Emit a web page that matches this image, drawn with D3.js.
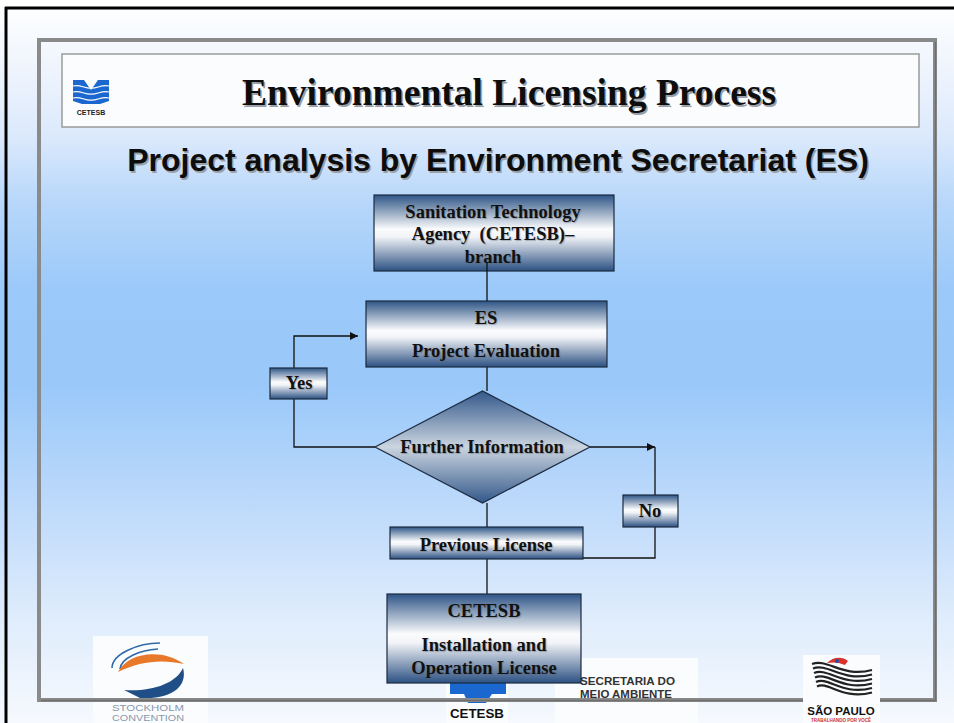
<!DOCTYPE html>
<html>
<head>
<meta charset="utf-8">
<script src="https://cdn.jsdelivr.net/npm/d3@7"></script>
<style>
  body { margin: 0; overflow: hidden; background: #fff; }
  svg { display: block; }
</style>
</head>
<body>
<div id="chart"></div>
<script>
// ---- content ----
const titleText = "Environmental Licensing Process";
const subtitleText = "Project analysis by Environment Secretariat (ES)";

const nodeIds   = ["agency", "evaluation", "decision", "yes", "no", "previous", "license"];
const nodeKinds = ["box", "box", "diamond", "box", "box", "box", "box"];
const nodeLines = [
  ["Sanitation Technology", "Agency  (CETESB)\u2013", "branch"],
  ["ES", "Project Evaluation"],
  ["Further Information"],
  ["Yes"],
  ["No"],
  ["Previous License"],
  ["CETESB", "Installation and", "Operation License"]
];

// connections: [from, to, arrow?]
const linkFrom  = ["agency", "evaluation", "decision", "decision", "no", "previous", "decision", "yes"];
const linkTo    = ["evaluation", "decision", "previous", "no", "previous", "license", "yes", "evaluation"];
const linkArrow = [false, false, false, true, false, false, false, true];

const footerSecretaria = ["SECRETARIA DO", "MEIO AMBIENTE"];
const footerStockholm  = ["STOCKHOLM", "CONVENTION"];

// ---- layout (slide coordinates) ----
const W = 954, H = 723;
const layout = {
  agency:     { x: 374, y: 195, w: 240, h: 76, lines: [218, 240, 263], cx: 493 },
  evaluation: { x: 366, y: 301, w: 241, h: 66, lines: [324, 357], cx: 486 },
  decision:   { x: 375, y: 391, w: 215, h: 112, lines: [453], cx: 482 },
  yes:        { x: 270, y: 368, w: 57,  h: 31, lines: [389], cx: 299 },
  no:         { x: 623, y: 495, w: 55,  h: 32, lines: [517], cx: 650 },
  previous:   { x: 390, y: 527, w: 193, h: 32, lines: [551], cx: 486 },
  license:    { x: 387, y: 594, w: 194, h: 89, lines: [617, 651, 674], cx: 484 }
};
const spineX = 487, yesX = 294, yesTopY = 336, noX = 655, noBottomY = 558;

const svg = d3.select("#chart").append("svg")
  .attr("width", W).attr("height", H)
  .attr("viewBox", `0 0 ${W} ${H}`);

const defs = svg.append("defs");

// background gradient
const bg = defs.append("linearGradient").attr("id", "bg")
  .attr("x1", 0).attr("y1", 0).attr("x2", 0).attr("y2", 1);
[[0, "#ffffff"], [0.1, "#eef4fd"], [0.19, "#dbe9fc"], [0.28, "#b7d7fa"], [0.4, "#9bc9f9"],
 [0.53, "#99c8f9"], [0.72, "#c2dcfb"], [0.86, "#e0edfc"], [1, "#f6f9fe"]]
  .forEach(([o, c]) => bg.append("stop").attr("offset", o).attr("stop-color", c));

const boxGrad = defs.append("linearGradient").attr("id", "boxGrad")
  .attr("x1", 0).attr("y1", 0).attr("x2", 0).attr("y2", 1);
[[0, "#2f5586"], [0.45, "#fbfcfd"], [0.55, "#f1f3f7"], [1, "#2c5182"]]
  .forEach(([o, c]) => boxGrad.append("stop").attr("offset", o).attr("stop-color", c));

const diaGrad = defs.append("linearGradient").attr("id", "diaGrad")
  .attr("x1", 0).attr("y1", 0).attr("x2", 0).attr("y2", 1);
[[0, "#33588a"], [0.5, "#cbd5e0"], [1, "#33588a"]]
  .forEach(([o, c]) => diaGrad.append("stop").attr("offset", o).attr("stop-color", c));

defs.append("marker").attr("id", "arrow")
  .attr("viewBox", "0 0 10 10").attr("refX", 10).attr("refY", 5)
  .attr("markerWidth", 9).attr("markerHeight", 8).attr("markerUnits", "userSpaceOnUse")
  .attr("orient", "auto")
  .append("path").attr("d", "M0,0 L10,5 L0,10 Z").attr("fill", "#111");

svg.append("rect").attr("width", W).attr("height", H).attr("fill", "url(#bg)");

// outer black border (top and left)
svg.append("line").attr("x1", 5).attr("x2", W).attr("y1", 8).attr("y2", 8)
  .attr("stroke", "#000").attr("stroke-width", 3);
svg.append("line").attr("x1", 6).attr("x2", 6).attr("y1", 7).attr("y2", H)
  .attr("stroke", "#000").attr("stroke-width", 3);

// ---- footer logos drawn beneath the frame ----
const foot = svg.append("g");
const sans = "Liberation Sans, Arial, sans-serif";

// Stockholm Convention
foot.append("rect").attr("x", 93).attr("y", 636).attr("width", 115).attr("height", 87).attr("fill", "#fbfcfe");
foot.append("path").attr("d", "M160,643 C138,643 112,654 112,668").attr("fill", "none").attr("stroke", "#2f6aa8").attr("stroke-width", 1.6);
foot.append("path").attr("d", "M158,649 C140,650 121,658 120,669").attr("fill", "none").attr("stroke", "#2f6aa8").attr("stroke-width", 1.6);
foot.append("path").attr("d", "M118,672 C128,652 162,648 184,664 C162,659 140,661 118,672 Z").attr("fill", "#e8792a");
foot.append("path").attr("d", "M124,690 C150,692 176,684 183,668 C188,686 172,700 140,698 Z").attr("fill", "#1f4f86");
foot.selectAll("text.sc").data(footerStockholm).join("text")
  .attr("class", "sc")
  .attr("x", 112).attr("y", (d, i) => 711 + i * 10)
  .attr("font-family", sans).attr("font-size", 9)
  .attr("textLength", 72).attr("lengthAdjust", "spacingAndGlyphs")
  .attr("fill", "#8a98ab").text(d => d);

// Secretaria
foot.append("rect").attr("x", 555).attr("y", 658).attr("width", 143).attr("height", 65).attr("fill", "#fbfcfe");
foot.selectAll("text.se").data(footerSecretaria).join("text")
  .attr("class", "se")
  .attr("x", 580).attr("y", (d, i) => 684.5 + i * 13.5)
  .attr("font-family", sans).attr("font-weight", "bold")
  .attr("font-size", 11).attr("fill", "#333")
  .attr("textLength", (d, i) => i ? 92 : 95).attr("lengthAdjust", "spacingAndGlyphs")
  .text(d => d);

// CETESB bottom logo
foot.append("rect").attr("x", 446).attr("y", 683).attr("width", 62).attr("height", 40).attr("fill", "#fbfcfe");
foot.append("path").attr("d", "M450,681 L506,681 L506,694 L492,694 L486,703 L468,703 L464,694 L450,694 Z").attr("fill", "#1a67d0");
foot.append("text").attr("x", 450).attr("y", 718)
  .attr("font-family", sans).attr("font-weight", "bold")
  .attr("font-size", 12).attr("fill", "#111")
  .attr("textLength", 54).attr("lengthAdjust", "spacingAndGlyphs").text("CETESB");

// gray frame
svg.append("rect").attr("x", 39).attr("y", 40).attr("width", 896).attr("height", 660)
  .attr("fill", "none").attr("stroke", "#8a8a8a").attr("stroke-width", 4);
svg.append("path").attr("d", "M41,700.5 L935.5,700.5 L935.5,42")
  .attr("fill", "none").attr("stroke", "#6f6f6f").attr("stroke-width", 1.5);

// São Paulo logo (over frame)
const sp = svg.append("g");
sp.append("rect").attr("x", 803).attr("y", 655).attr("width", 77).attr("height", 68).attr("fill", "#fbfcfe");
d3.range(6).forEach(i => {
  const y0 = 664 + i * 4.5;
  sp.append("path")
    .attr("d", `M${812 + i},${y0} C${828},${y0 - 6} ${842},${y0 + 14} ${872},${y0 + 6}`)
    .attr("fill", "none").attr("stroke", "#222").attr("stroke-width", 2.2);
});
sp.append("path").attr("d", "M827,663 C833,657 842,656 848,661 L845,665 C838,662 833,662 827,663 Z").attr("fill", "#d9342b");
sp.append("circle").attr("cx", 837).attr("cy", 661).attr("r", 2).attr("fill", "#2a4fa0");
sp.append("text").attr("x", 841).attr("y", 715).attr("text-anchor", "middle")
  .attr("font-family", sans).attr("font-weight", "bold")
  .attr("font-size", 11.5).attr("fill", "#111").text("SÃO PAULO");
sp.append("text").attr("x", 841).attr("y", 721.5).attr("text-anchor", "middle")
  .attr("font-family", sans).attr("font-weight", "bold")
  .attr("font-size", 4.5).attr("fill", "#d0302a").text("TRABALHANDO POR VOCÊ");

// title box
svg.append("rect").attr("x", 62).attr("y", 54).attr("width", 857).attr("height", 73)
  .attr("fill", "#fafcfe").attr("stroke", "#9a9a9a").attr("stroke-width", 1.5);

// top-left CETESB logo
const logo = svg.append("g");
logo.append("path").attr("d", "M73,80 L84,80 L91,90 L98,80 L109,80 L109,101 L100,104 L82,104 L73,101 Z")
  .attr("fill", "#1a67d0");
[86, 92, 98].forEach(y => logo.append("path")
  .attr("d", `M73,${y} C80,${y - 2} 86,${y + 3} 91,${y + 2} C96,${y + 3} 102,${y - 2} 109,${y}`)
  .attr("fill", "none").attr("stroke", "#fafcfe").attr("stroke-width", 1.2));
logo.append("text").attr("x", 91).attr("y", 115).attr("text-anchor", "middle")
  .attr("font-family", sans).attr("font-weight", "bold")
  .attr("font-size", 7).attr("fill", "#222").text("CETESB");

// title + subtitle with soft shadows
function shadowText(g, x, y, txt, font, size, dx) {
  g.append("text").attr("x", x + dx).attr("y", y + dx).attr("text-anchor", "middle")
    .attr("font-family", font).attr("font-weight", "bold").attr("font-size", size)
    .attr("fill", "#9aa0a8").text(txt);
  g.append("text").attr("x", x).attr("y", y).attr("text-anchor", "middle")
    .attr("font-family", font).attr("font-weight", "bold").attr("font-size", size)
    .attr("fill", "#0d0d0d").text(txt);
}
shadowText(svg, 509, 105, titleText, "Liberation Serif, Times New Roman, serif", 37.5, 1.5);
shadowText(svg, 498, 171, subtitleText, sans, 32, 1.5);

// ---- connectors ----
const pos = id => layout[id];
function linkPoints(from, to) {
  const a = pos(from), b = pos(to);
  if (from === "decision" && to === "yes") return [[a.x, a.y + a.h / 2], [yesX, a.y + a.h / 2], [yesX, b.y + b.h]];
  if (from === "yes") return [[yesX, a.y], [yesX, yesTopY], [b.x - 8, yesTopY]];
  if (from === "decision" && to === "no") return [[a.x + a.w, a.y + a.h / 2], [noX, a.y + a.h / 2]];
  if (from === "no") return [[noX, a.y + a.h], [noX, noBottomY], [b.x + b.w, noBottomY]];
  if (from === "agency") return [[spineX, a.y + a.h - 9], [spineX, b.y]];
  return [[spineX, a.y + a.h], [spineX, b.y]];
}
const line = d3.line();
const links = svg.append("g").attr("fill", "none").attr("stroke", "#111").attr("stroke-width", 1.3);
const nodes = svg.append("g");

// draw links under nodes except the agency stub which passes over the box
linkFrom.forEach((f, i) => {
  if (f === "agency") return;
  links.append("path").attr("d", line(linkPoints(f, linkTo[i])))
    .attr("marker-end", linkArrow[i] ? "url(#arrow)" : null);
});
// vertical from the No arrow corner down to the No box
links.append("path").attr("d", line([[noX, pos("decision").y + pos("decision").h / 2], [noX, pos("no").y]]));

const g = nodes.selectAll("g").data(nodeIds.map((d, i) => i)).join("g");
g.each(function(i) {
  const sel = d3.select(this), L = layout[nodeIds[i]];
  if (nodeKinds[i] === "diamond") {
    const cx = L.x + L.w / 2, cy = L.y + L.h / 2;
    sel.append("path")
      .attr("d", `M${L.x},${cy} L${cx},${L.y} L${L.x + L.w},${cy} L${cx},${L.y + L.h} Z`)
      .attr("fill", "url(#diaGrad)").attr("stroke", "#1b2a40").attr("stroke-width", 1.2);
  } else {
    sel.append("rect").attr("x", L.x).attr("y", L.y).attr("width", L.w).attr("height", L.h)
      .attr("fill", "url(#boxGrad)").attr("stroke", "#1b2a40").attr("stroke-width", 1.2);
  }
  nodeLines[i].forEach((t, k) => {
    sel.append("text").attr("x", L.cx).attr("y", L.lines[k]).attr("text-anchor", "middle")
      .attr("font-family", "Liberation Serif, Times New Roman, serif").attr("font-weight", "bold")
      .attr("font-size", 18.5).attr("fill", "#111")
      .style("white-space", "pre").style("text-shadow", "1px 1px 1px rgba(90,100,115,0.45)")
      .text(t);
  });
});

// agency stub over its box
linkFrom.forEach((f, i) => {
  if (f !== "agency") return;
  svg.append("path").attr("d", line(linkPoints(f, linkTo[i])))
    .attr("fill", "none").attr("stroke", "#111").attr("stroke-width", 1.3);
});
</script>
</body>
</html>
